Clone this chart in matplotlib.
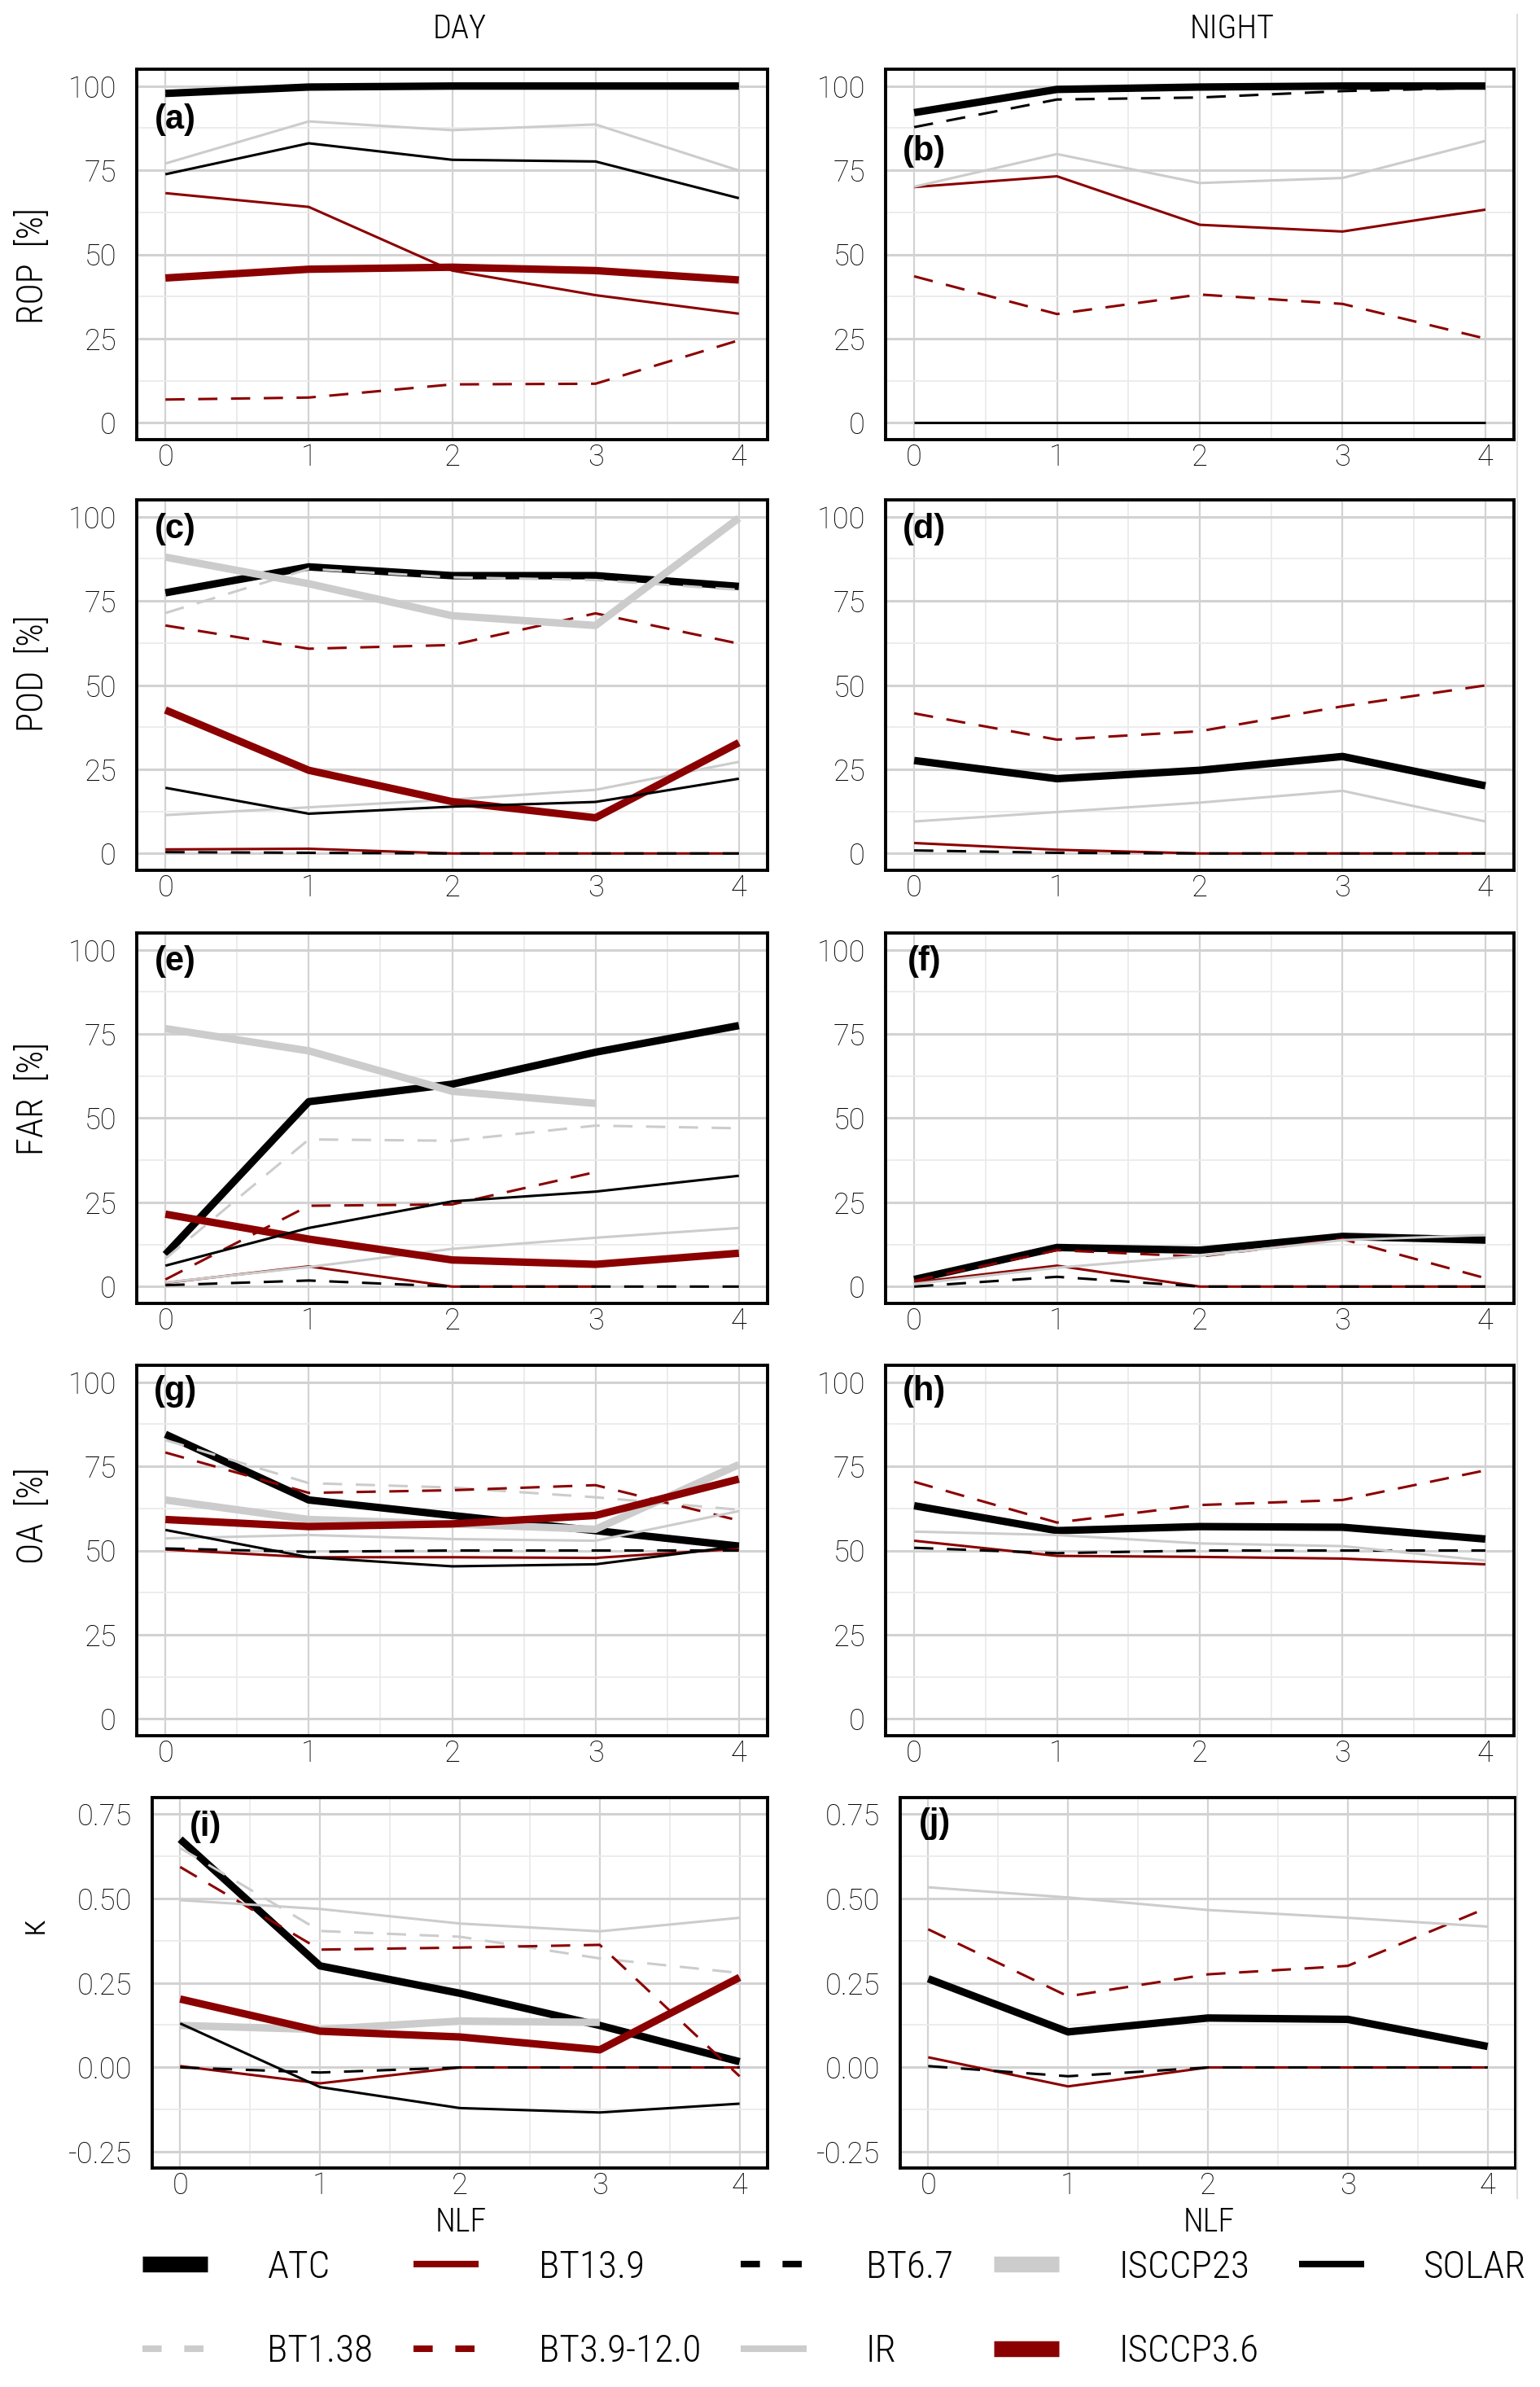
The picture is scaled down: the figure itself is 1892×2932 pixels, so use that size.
import numpy as np
import matplotlib
matplotlib.use("Agg")
import matplotlib.pyplot as plt
from matplotlib.lines import Line2D

nan = np.nan

# ---------------- data ----------------
nlf = [0, 1, 2, 3, 4]
series_order = ["ATC", "BT1.38", "BT13.9", "BT3.9-12.0", "BT6.7",
                "IR", "ISCCP23", "ISCCP3.6", "SOLAR"]

rop_day = {
    "ATC": [97.8, 99.7, 100, 100, 100],
    "BT13.9": [68.2, 64.1, 45.2, 37.9, 32.4],
    "BT3.9-12.0": [6.9, 7.5, 11.4, 11.6, 24.5],
    "BT6.7": [97.2, 100, 100, 100, 100],
    "IR": [77.0, 89.5, 86.9, 88.6, 74.9],
    "ISCCP3.6": [43.0, 45.6, 46.2, 45.2, 42.4],
    "SOLAR": [73.8, 83.0, 78.1, 77.6, 66.7],
}
rop_night = {
    "ATC": [92.1, 99.0, 99.7, 100, 100],
    "BT13.9": [70.0, 73.2, 58.8, 56.8, 63.3],
    "BT3.9-12.0": [43.5, 32.3, 38.1, 35.3, 25.0],
    "BT6.7": [87.8, 96.0, 96.6, 98.5, 99.5],
    "IR": [70.1, 79.8, 71.2, 72.7, 83.7],
    "SOLAR": [0, 0, 0, 0, 0],
}
pod_day = {
    "ATC": [77.4, 85.1, 82.5, 82.5, 79.3],
    "BT1.38": [71.4, 84.5, 82.0, 81.2, 78.3],
    "BT13.9": [1.2, 1.4, 0, 0, 0],
    "BT3.9-12.0": [67.7, 60.8, 61.9, 71.3, 62.3],
    "BT6.7": [0.4, 0.2, 0, 0, 0],
    "IR": [11.4, 13.7, 16.0, 18.9, 27.2],
    "ISCCP23": [88.0, 80.1, 70.6, 67.7, 99.6],
    "ISCCP3.6": [42.6, 24.7, 15.4, 10.6, 32.9],
    "SOLAR": [19.5, 11.8, 13.9, 15.3, 22.2],
}
pod_night = {
    "ATC": [27.6, 22.2, 24.7, 28.8, 20.1],
    "BT13.9": [3.1, 1.1, 0, 0, 0],
    "BT3.9-12.0": [41.6, 33.8, 36.3, 43.7, 49.9],
    "BT6.7": [0.9, 0.2, 0, 0, 0],
    "IR": [9.5, 12.3, 15.1, 18.6, 9.5],
}
far_day = {
    "ATC": [9.5, 54.9, 60.1, 69.6, 77.5],
    "BT1.38": [8.3, 43.7, 43.3, 47.8, 47.0],
    "BT13.9": [1.1, 6.0, 0, 0, nan],
    "BT3.9-12.0": [2.1, 24.0, 24.4, 34.0, nan],
    "BT6.7": [0.4, 1.8, 0, 0, 0],
    "IR": [1.2, 5.8, 11.2, 14.5, 17.4],
    "ISCCP23": [76.6, 70.0, 58.0, 54.4, nan],
    "ISCCP3.6": [21.5, 14.1, 7.9, 6.6, 9.9],
    "SOLAR": [6.2, 17.4, 25.3, 28.2, 32.9],
}
far_night = {
    "ATC": [2.1, 11.6, 10.8, 14.9, 13.8],
    "BT13.9": [1.2, 6.2, 0, 0, 0],
    "BT3.9-12.0": [1.7, 10.8, 8.9, 14.1, 2.5],
    "BT6.7": [0, 2.9, 0, 0, 0],
    "IR": [0.8, 5.6, 9.1, 13.8, 15.3],
}
oa_day = {
    "ATC": [84.5, 65.0, 60.4, 55.9, 51.3],
    "BT1.38": [82.8, 70.0, 68.7, 65.8, 62.1],
    "BT13.9": [50.3, 48.0, 48.0, 47.8, 50.5],
    "BT3.9-12.0": [79.1, 67.1, 67.9, 69.4, 58.9],
    "BT6.7": [50.6, 49.6, 50.0, 50.0, 50.0],
    "IR": [53.6, 54.6, 53.4, 52.9, 61.7],
    "ISCCP23": [65.0, 59.2, 57.9, 56.3, 75.5],
    "ISCCP3.6": [59.2, 57.1, 57.9, 60.4, 71.2],
    "SOLAR": [56.1, 48.0, 45.3, 45.9, 51.3],
}
oa_night = {
    "ATC": [63.3, 55.9, 57.1, 56.9, 53.4],
    "BT13.9": [52.9, 48.4, 48.1, 47.6, 45.9],
    "BT3.9-12.0": [70.4, 58.3, 63.5, 65.0, 73.8],
    "BT6.7": [50.8, 49.2, 50.0, 50.0, 50.0],
    "IR": [55.6, 54.6, 52.1, 51.3, 47.0],
}
kappa_day = {
    "ATC": [0.674, 0.300, 0.219, 0.124, 0.017],
    "BT1.38": [0.648, 0.403, 0.386, 0.322, 0.279],
    "BT13.9": [0.004, -0.047, 0, 0, 0],
    "BT3.9-12.0": [0.592, 0.348, 0.354, 0.362, -0.026],
    "BT6.7": [0, -0.015, 0, 0, 0],
    "IR": [0.494, 0.468, 0.425, 0.402, 0.442],
    "ISCCP23": [0.124, 0.112, 0.137, 0.133, nan],
    "ISCCP3.6": [0.202, 0.107, 0.090, 0.052, 0.266],
    "SOLAR": [0.130, -0.058, -0.120, -0.133, -0.107],
}
kappa_night = {
    "ATC": [0.262, 0.105, 0.146, 0.142, 0.062],
    "BT13.9": [0.030, -0.056, 0, 0, 0],
    "BT3.9-12.0": [0.408, 0.210, 0.275, 0.300, 0.472],
    "BT6.7": [0.004, -0.026, 0, 0, 0],
    "IR": [0.532, 0.502, 0.465, 0.442, 0.416],
}

pct_ticks = [0, 25, 50, 75, 100]
pct_labels = ["0", "25", "50", "75", "100"]
kappa_ticks = [-0.25, 0.0, 0.25, 0.50, 0.75]
kappa_labels = ["-0.25", "0.00", "0.25", "0.50", "0.75"]
row_titles = ["ROP  [%]", "POD  [%]", "FAR  [%]", "OA  [%]", "\u03ba"]
panel_tags = ["(a)", "(b)", "(c)", "(d)", "(e)", "(f)", "(g)", "(h)", "(i)", "(j)"]

# ---------------- style ----------------
W, H = 1892, 2932
DPI = 100
FONT = ["Liberation Sans Narrow", "DejaVu Sans Condensed", "Roboto Condensed", "Lato", "DejaVu Sans"]
TICKFONT = ["Roboto", "Lato", "DejaVu Sans"]
plt.rcParams["font.family"] = FONT
plt.rcParams["lines.scale_dashes"] = False
plt.rcParams["axes.unicode_minus"] = False

BLACK = "#000000"
RED = "#8b0000"
GREY = "#cccccc"
THIN = 2.2
THICK = 6.6
DASH = (17, 12)
styles = {
    "ATC": (BLACK, THICK, "-"),
    "BT1.38": (GREY, THIN, "--"),
    "BT13.9": (RED, THIN, "-"),
    "BT3.9-12.0": (RED, THIN, "--"),
    "BT6.7": (BLACK, THIN, "--"),
    "IR": (GREY, THIN, "-"),
    "ISCCP23": (GREY, THICK, "-"),
    "ISCCP3.6": (RED, THICK, "-"),
    "SOLAR": (BLACK, THIN, "-"),
}

fig = plt.figure(figsize=(W / DPI, H / DPI), dpi=DPI)
fig.patch.set_facecolor("white")

row_tops = [85, 614, 1146, 1677, 2208]
AX_H = 455
col_geo = [(168, 775), (1088, 772)]
kappa_geo = [(187, 756), (1106, 756)]

panels = [
    (rop_day, rop_night),
    (pod_day, pod_night),
    (far_day, far_night),
    (oa_day, oa_night),
    (kappa_day, kappa_night),
]
tag_pos = [
    [(0.07, 90), (0.07, 80.5)],
    [(0.07, 96.3), (0.07, 96.3)],
    [(0.07, 96.6), (0.07, 96.6)],
    [(0.07, 97.3), (0.07, 97.3)],
    [(0.18, 0.71), (0.05, 0.72)],
]


def px_axes(left, top, width, height):
    return fig.add_axes([left / W, 1 - (top + height) / H, width / W, height / H])


for r in range(5):
    for c in range(2):
        if r == 4:
            left, width = kappa_geo[c]
        else:
            left, width = col_geo[c]
        ax = px_axes(left, row_tops[r], width, AX_H)
        data = panels[r][c]
        for z, name in enumerate(series_order):
            if name not in data:
                continue
            col, lw, ls = styles[name]
            ln, = ax.plot(nlf, data[name], color=col, lw=lw, solid_capstyle="butt",
                          solid_joinstyle="round", zorder=3 + z * 0.1)
            if ls == "--":
                ln.set_dashes(DASH)
        ax.set_xlim(-0.2, 4.2)
        ax.set_xticks(nlf)
        ax.set_xticklabels([str(v) for v in nlf])
        ax.set_xticks([0.5, 1.5, 2.5, 3.5], minor=True)
        if r == 4:
            ax.set_ylim(-0.297, 0.797)
            ax.set_yticks(kappa_ticks)
            ax.set_yticklabels(kappa_labels)
            ax.set_yticks([-0.125, 0.125, 0.375, 0.625], minor=True)
        else:
            ax.set_ylim(-5, 105)
            ax.set_yticks(pct_ticks)
            ax.set_yticklabels(pct_labels)
            ax.set_yticks([12.5, 37.5, 62.5, 87.5], minor=True)
        ax.set_axisbelow(True)
        ax.grid(which="major", axis="y", color="#d2d2d2", lw=2.2)
        ax.grid(which="major", axis="x", color="#d2d2d2", lw=1.6)
        ax.grid(which="minor", axis="both", color="#ebebeb", lw=1.3)
        for sp in ax.spines.values():
            sp.set_linewidth(2.8)
            sp.set_color("black")
        ax.tick_params(which="both", length=0)
        ax.tick_params(axis="x", labelsize=26, pad=3)
        ax.tick_params(axis="y", labelsize=26, pad=18)
        for t in ax.get_xticklabels() + ax.get_yticklabels():
            t.set_fontweight("light")
            t.set_family(TICKFONT)
        tx, ty = tag_pos[r][c]
        ax.text(tx, ty, panel_tags[r * 2 + c], ha="center", va="center",
                fontsize=30, fontweight="bold",
                family=["Liberation Sans", "DejaVu Sans"], zorder=10)

# column titles
fig.text(565 / W, 1 - 36 / H, "DAY", ha="center", va="center", fontsize=29, fontweight="light")
fig.text(1514 / W, 1 - 36 / H, "NIGHT", ha="center", va="center", fontsize=29, fontweight="light")

# row titles
row_title_y = [327, 827, 1349, 1862, 2364]
for title, yy in zip(row_titles, row_title_y):
    fig.text(40 / W, 1 - yy / H, title, rotation=90, ha="center", va="center",
             fontsize=32, fontweight="light")

# x titles
fig.text(566 / W, 1 - 2730 / H, "NLF", ha="center", va="center", fontsize=29, fontweight="light")
fig.text(1485 / W, 1 - 2730 / H, "NLF", ha="center", va="center", fontsize=29, fontweight="light")

# faint right-hand rule
fig.add_artist(Line2D([1864 / W, 1864 / W], [1 - 18 / H, 1 - 2700 / H],
                      transform=fig.transFigure, color="#dedede", lw=1.5))

# legend
handles = []
for name in series_order:
    col, lw, ls = styles[name]
    llw = 14 if lw == THICK else 5.8
    h = Line2D([], [], color=col, lw=llw, solid_capstyle="butt", dash_capstyle="butt")
    if ls == "--":
        h.set_dashes((17, 20))
    handles.append(h)
leg = fig.legend(handles, series_order, loc="upper left",
                 bbox_to_anchor=(175 / W, 1 - 2763 / H), ncol=5, frameon=False,
                 fontsize=34, handlelength=1.7, handletextpad=1.55,
                 columnspacing=1.05, labelspacing=1.25, borderpad=0, borderaxespad=0)
for t in leg.get_texts():
    t.set_fontweight("light")

fig.savefig("out.png", dpi=DPI, facecolor="white")
